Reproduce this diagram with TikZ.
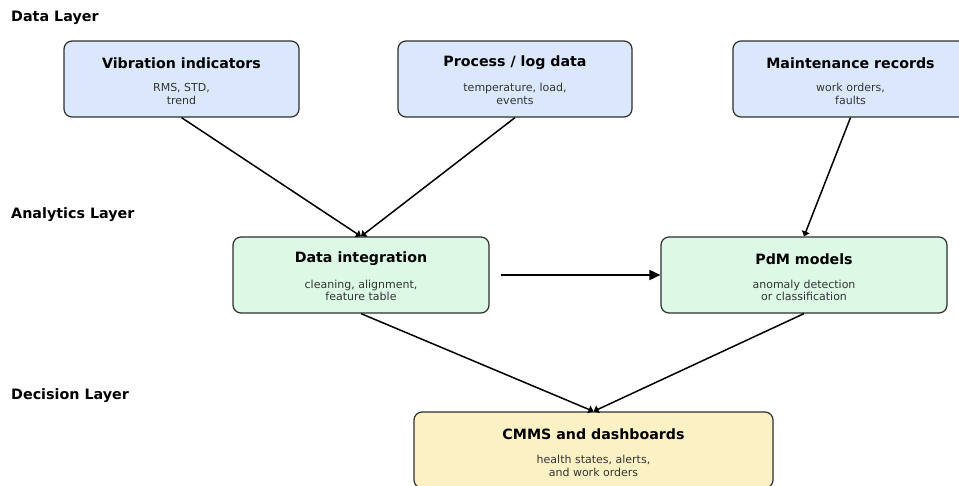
\documentclass[tikz,border=0pt]{standalone}
\usepackage{fontspec}
\setmainfont{DejaVu Sans}
\usetikzlibrary{arrows.meta}
\definecolor{datafill}{HTML}{DBE8FC}
\definecolor{anafill}{HTML}{DCF9E6}
\definecolor{decfill}{HTML}{FCF1C5}
\definecolor{edgegray}{HTML}{2E2E2E}
\definecolor{subgray}{HTML}{333333}
\tikzset{
  box/.style={draw=edgegray, line width=1.2pt, rounded corners=8pt, inner sep=0pt},
  boxtitle/.style={font=\fontsize{14.2}{17}\selectfont\bfseries, text=black, inner sep=0pt},
  boxsub/.style={font=\fontsize{11}{13}\selectfont, text=subgray, align=center, inner sep=0pt},
  layer/.style={font=\fontsize{14.3}{17}\selectfont\bfseries, text=black, anchor=west, inner sep=0pt},
  flow/.style={line width=1.5pt, -{Triangle[width=8pt,length=5pt]}},
  bigflow/.style={line width=1.8pt, -{Triangle[width=10pt,length=11pt]}}
}
\begin{document}
\begin{tikzpicture}[x=1pt, y=-1pt]
  \useasboundingbox (0,0) rectangle (959,486);
  \clip (0,0) rectangle (959,486);

  % layer captions
  \node[layer] (lData) at (11,18) {Data Layer};
  \node[layer] (lAna) at (11,214.5) {Analytics Layer};
  \node[layer] (lDec) at (11,395.5) {Decision Layer};

  % data layer
  \node[box, fill=datafill, minimum width=235pt, minimum height=76pt] (vib) at (181.5,79) {};
  \node[boxtitle] (vibT) at ([yshift=-22.5pt]vib.north) {Vibration indicators};
  \node[boxsub] (vibS) at ([yshift=-54pt]vib.north) {RMS, STD,\\trend};

  \node[box, fill=datafill, minimum width=234pt, minimum height=76pt] (proc) at (515,79) {};
  \node[boxtitle] (procT) at ([yshift=-22.5pt]proc.north) {Process / log data};
  \node[boxsub] (procS) at ([yshift=-54pt]proc.north) {temperature, load,\\events};

  \node[box, fill=datafill, minimum width=235pt, minimum height=76pt] (maint) at (850.5,79) {};
  \node[boxtitle] (maintT) at ([yshift=-22.5pt]maint.north) {Maintenance records};
  \node[boxsub] (maintS) at ([yshift=-54pt]maint.north) {work orders,\\faults};

  % analytics layer
  \node[box, fill=anafill, minimum width=256pt, minimum height=76pt] (integ) at (361,275) {};
  \node[boxtitle] (integT) at ([yshift=-22.5pt]integ.north) {Data integration};
  \node[boxsub] (integS) at ([yshift=-54pt]integ.north) {cleaning, alignment,\\feature table};

  \node[box, fill=anafill, minimum width=286pt, minimum height=76pt] (pdm) at (804,275) {};
  \node[boxtitle] (pdmT) at ([yshift=-22.5pt]pdm.north) {PdM models};
  \node[boxsub] (pdmS) at ([yshift=-54pt]pdm.north) {anomaly detection\\or classification};

  % decision layer
  \node[box, fill=decfill, minimum width=359pt, minimum height=76pt] (cmms) at (593.5,450) {};
  \node[boxtitle] (cmmsT) at ([yshift=-22.5pt]cmms.north) {CMMS and dashboards};
  \node[boxsub] (cmmsS) at ([yshift=-54pt]cmms.north) {health states, alerts,\\and work orders};

  % connectors
  \draw[flow] (vib.south) -- (integ.north);
  \draw[flow] (proc.south) -- (integ.north);
  \draw[flow] (maint.south) -- (pdm.north);
  \coordinate (integOut) at ([xshift=11pt]integ.east);
  \draw[bigflow] (integOut) -- (pdm.west);
  \draw[flow] (integ.south) -- (cmms.north);
  \draw[flow] (pdm.south) -- (cmms.north);
\end{tikzpicture}
\end{document}
